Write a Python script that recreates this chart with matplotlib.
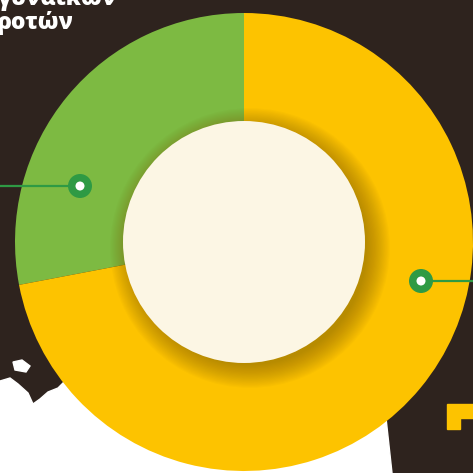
import numpy as np
import matplotlib.pyplot as plt
from matplotlib.patches import Circle, Polygon

# data
labels = ['γυναικών αγροτών', 'υπόλοιποι']
shares = [28, 72]
colors = ['#7dba42', '#fdc300']

W = 473
cx, cy = 244, W - 242   # donut centre (y up)
R_out, R_in = 229, 121

fig = plt.figure(figsize=(4.73, 4.73), dpi=100)
ax = fig.add_axes([0, 0, 1, 1])
ax.set_facecolor('#2e231e')

def px(pts):
    # pixel (y down) -> axes coords (y up)
    return [(x, W - y) for x, y in pts]

# white paper behind the soil, bottom left
white = px([(0, 381), (10, 378), (18, 384), (28, 393), (33, 404), (40, 399),
            (48, 392), (58, 388), (64, 382), (120, 420), (386, 418),
            (392, 473), (0, 473)])
ax.add_patch(Polygon(white, closed=True, color='white', zorder=1))
ax.add_patch(Polygon(px([(13, 362), (22, 360), (30, 366), (26, 372), (15, 370)]),
                     closed=True, color='white', zorder=1))

# yellow corner glyph, bottom right
ax.add_patch(Polygon(px([(447, 404), (473, 404), (473, 418), (460, 418),
                         (460, 429), (447, 429)]),
                     closed=True, color='#fdc300', zorder=1))

wedges, _ = ax.pie(shares, colors=colors, startangle=90, counterclock=True,
                   center=(cx, cy), radius=R_out, frame=True,
                   wedgeprops=dict(linewidth=0))
for w in wedges:
    w.set_zorder(2)

# soft shadow round the centre disc
for i in range(20):
    ax.add_patch(Circle((cx + 6, cy - 6), R_in - 4 + 1.2 * i, color='#7a5a00',
                        alpha=0.03, lw=0, zorder=3))
ax.add_patch(Circle((cx, cy), R_in, color='#fcf6e4', lw=0, zorder=4))

# pointer dots
dot_green = '#2e9a44'
ax.plot([0, 80], [W - 186, W - 186], color=dot_green, lw=1.6, zorder=5)
ax.plot([421, W], [W - 281, W - 281], color=dot_green, lw=1.6, zorder=5)
for x, y in [(80, 186), (421, 281)]:
    ax.add_patch(Circle((x, W - y), 12, color=dot_green, lw=0, zorder=6))
    ax.add_patch(Circle((x, W - y), 4.5, color='white', lw=0, zorder=7))

# title, cut off by the crop
ax.text(-3, W - 5, 'γυναικών', color='white', fontsize=16.5, fontweight='heavy',
        family='Open Sans', ha='left', va='baseline', zorder=8)
ax.text(-3, W - 29, 'ροτών', color='white', fontsize=16.5, fontweight='heavy',
        family='Open Sans', ha='left', va='baseline', zorder=8)

ax.set_xlim(0, W)
ax.set_ylim(0, W)
ax.set_aspect('auto')
ax.axis('off')

fig.savefig('out.png', dpi=100, facecolor='#2e231e')
